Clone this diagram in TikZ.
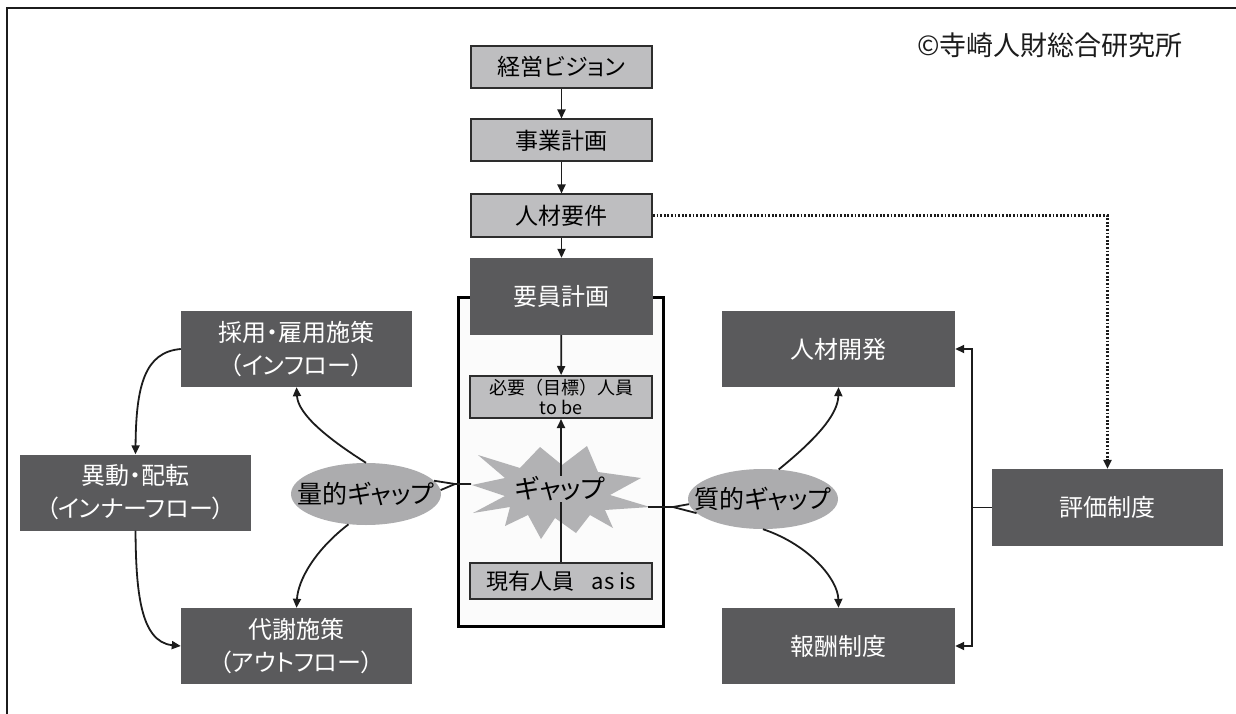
\documentclass[tikz,border=0pt]{standalone}
\usepackage{fontspec}
\setmainfont{Noto Sans CJK JP}[RawFeature=+palt]
\newfontfamily\jpfull{Noto Sans CJK JP}
\usetikzlibrary{arrows.meta,shapes.geometric}
\newcommand\myfs[2]{\fontsize{#1}{#2}\selectfont}
\definecolor{dbox}{RGB}{90,90,92}
\definecolor{lbox}{RGB}{190,190,192}
\definecolor{lborder}{RGB}{45,45,45}
\definecolor{ellc}{RGB}{172,172,174}
\definecolor{starc}{RGB}{178,178,180}
\definecolor{linec}{RGB}{28,28,28}
\definecolor{contfill}{RGB}{251,251,251}
\tikzset{
  darkbox/.style={fill=dbox, text=white, minimum width=231pt, minimum height=76pt, inner sep=0pt, align=center, font=\myfs{24}{33}},
  topbox/.style={fill=lbox, draw=lborder, line width=2pt, text=black, minimum width=181pt, minimum height=42pt, inner sep=0pt, align=center, font=\myfs{23}{28}},
  innerbox/.style={fill=lbox, draw=lborder, line width=2pt, text=black, minimum width=182pt, inner sep=0pt, align=center},
  gapell/.style={ellipse, fill=ellc, minimum width=150pt, minimum height=62pt, inner sep=0pt, font=\myfs{25}{28}},
  arr/.style={line width=1.8pt, draw=linec, -{Triangle[length=9pt,width=8pt]}},
  conn/.style={line width=1.8pt, draw=linec},
  dotarr/.style={line width=2.4pt, draw=linec, dash pattern=on 1.8pt off 1.8pt, -{Triangle[length=9pt,width=8pt]}},
  frame/.style={line width=2.5pt, draw=linec},
  contbox/.style={draw=black, line width=3pt, fill=contfill, minimum width=205pt, minimum height=329pt, inner sep=0pt}
}
\begin{document}
\begin{tikzpicture}[x=1pt,y=-1pt]
\useasboundingbox (0,0) rectangle (1236,714);
% outer frame (top and left)
\draw[frame] (7,714) -- (7,8) -- (1236,8);
% copyright
\node[font=\myfs{27}{30}, text=linec, inner sep=0pt] (copy) at (1050,45) {©寺崎人財総合研究所};
% container
\node[contbox] (cont) at (561,462) {};
% starburst
\fill[starc] (472,485) -- (505,478) -- (478,455) -- (520,468) -- (540,447) -- (562,465) -- (587,446) -- (598,472) -- (641,478) -- (610,495) -- (650,507) -- (605,510) -- (613,528) -- (590,515) -- (576,533) -- (555,518) -- (541,539) -- (528,515) -- (505,526) -- (510,507) -- (473,513) -- (505,496) -- cycle;
% top chain
\node[topbox] (vision) at (561.5,67) {経営ビジョン};
\node[topbox] (jigyo) at (561.5,140.5) {事業計画};
\node[topbox] (yoken) at (561.5,215.5) {人材要件};
\node[darkbox, minimum width=183pt, minimum height=77pt] (yoin) at (561.5,296.5) {要員計画};
\node[innerbox, minimum height=42pt, font=\jpfull\myfs{18}{20}] (hitsuyo) at (561,397) {必要（目標）人員\\to be};
\node[innerbox, minimum height=36pt, font=\myfs{22}{24}] (genyu) at (561,581) {現有人員\hspace{0.8em}as is};
% left boxes
\node[darkbox] (saiyo) at (296.5,349) {採用・雇用施策\\（インフロー）};
\node[darkbox] (idou) at (135.5,492.5) {異動・配転\\（インナーフロー）};
\node[darkbox] (taisha) at (296.5,646) {代謝施策\\（アウトフロー）};
% right boxes
\node[darkbox, minimum width=233pt] (kaihatsu) at (838.5,349) {人材開発};
\node[darkbox, minimum width=233pt] (hoshu) at (838.5,646) {報酬制度};
\node[darkbox, minimum height=77pt] (hyoka) at (1107.5,507.5) {評価制度};
% ellipses
\node[gapell] (q1) at (366,494) {\makebox[0pt]{量的ギャップ}};
\node[gapell, minimum height=60pt] (q2) at (763,499) {\makebox[0pt]{質的ギャップ}};
% chain arrows
\draw[arr] (vision) -- (jigyo);
\draw[arr] (jigyo) -- (yoken);
\draw[arr] (yoken) -- (yoin);
\draw[arr] (yoin) -- (hitsuyo);
\draw[arr] (genyu) -- (hitsuyo);
\node[fill=starc, inner sep=1pt, font=\myfs{26}{30}] (gap) at (560,489) {ギャップ};
% dotted
\draw[dotarr] (yoken.east) -| (hyoka.north);
% forks to ellipses
\coordinate (gL) at (471,484);
\coordinate (fL) at (455,484);
\draw[conn] (gL) -- (fL) -- (q1.11);
\draw[conn] (fL) -- (q1.3);
\coordinate (gR) at (648,507);
\coordinate (fR) at (673,507);
\draw[conn] (gR) -- (fR) -- (q2.184);
\draw[conn] (fR) -- (q2.192);
% left curves
\draw[arr] (saiyo.west) .. controls (145,352) and (136,385) .. (idou.north);
\draw[arr] (idou.south) .. controls (136,590) and (140,642) .. (taisha.west);
\draw[arr] (q1.north) .. controls (330,440) and (298,415) .. (saiyo.south);
\draw[arr] (q1.240) .. controls (315,550) and (298,580) .. (taisha.north);
% right curves
\draw[arr] (q2.62) .. controls (815,440) and (838,415) .. (kaihatsu.south);
\draw[arr] (q2.south) .. controls (810,545) and (838,580) .. (hoshu.north);
% bracket
\coordinate (bj) at (972,507.5);
\draw[conn] (hyoka.west) -- (bj);
\draw[arr] (bj) |- (kaihatsu.east);
\draw[arr] (bj) |- (hoshu.east);
\end{tikzpicture}
\end{document}
